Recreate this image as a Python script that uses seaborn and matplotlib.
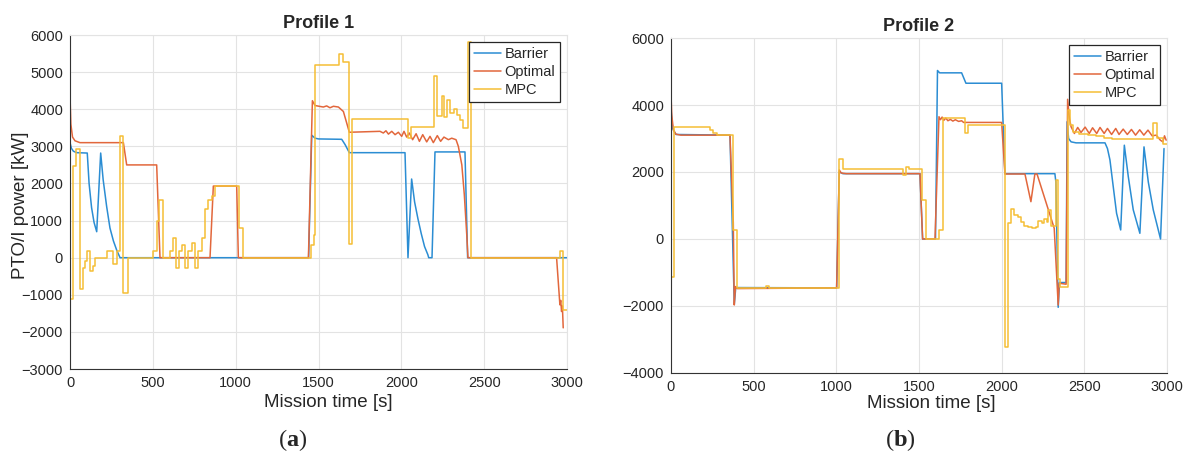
import seaborn as sns
import matplotlib.pyplot as plt

# Perfil 1 - Barrier
p1_bar_t = [0, 0, 8, 20, 40, 104, 115, 130, 145, 161, 185, 200, 221, 241, 262, 282, 302,
            1440, 1459, 1479, 1500, 1640, 1660, 1686, 2022, 2040, 2062, 2080, 2100, 2120,
            2140, 2160, 2165, 2185, 2203, 2384, 2400, 3000]
p1_bar_v = [-2600, 3100, 2950, 2870, 2830, 2820, 2000, 1350, 950, 700, 2820, 2100, 1380, 800,
            450, 200, 0,
            0, 3300, 3220, 3200, 3190, 3050, 2830, 2830, 0, 2120, 1500, 1050, 650,
            300, 80, 0, 0, 2850, 2850, 0, 0]

# Perfil 1 - Optimal
p1_opt_t = [0, 0, 5, 15, 30, 60, 322, 342, 523, 543, 845, 865, 1006, 1016, 1439,
            1463, 1479, 1529, 1549, 1569, 1590, 1620, 1650, 1670, 1686, 1871, 1891, 1907,
            1922, 1942, 1962, 1982, 2002, 2016, 2032, 2048, 2068, 2089, 2109, 2129, 2153,
            2173, 2193, 2217, 2237, 2257, 2284, 2304, 2330, 2344, 2365, 2380, 2395, 2402,
            2937, 2957, 2962, 2967, 2972, 2977]
p1_opt_v = [-1580, 4350, 3600, 3250, 3150, 3100, 3100, 2500, 2500, 0, 0, 1930, 1930, 0, 0,
            4230, 4100, 4060, 4090, 4040, 4080, 4060, 3940, 3630, 3380, 3405, 3360, 3420,
            3330, 3405, 3315, 3380, 3270, 3405, 3250, 3360, 3180, 3340, 3135, 3315, 3120,
            3270, 3100, 3290, 3135, 3250, 3180, 3220, 3180, 3000, 2500, 1700, 600, 0,
            0, -1270, -1150, -1450, -1300, -1890]

# Perfil 1 - MPC (escalons)
p1_mpc_t = [0, 18, 38, 62, 80, 92, 100, 121, 137, 152, 222, 262, 282, 300, 322, 350,
            503, 523, 537, 559, 604, 620, 640, 660, 674, 694, 714, 734, 755, 775, 795, 815,
            835, 855, 875, 1022, 1046, 1455, 1470, 1480, 1626, 1650, 1684, 1704, 2042, 2060,
            2197, 2213, 2243, 2257, 2273, 2294, 2318, 2334, 2354, 2370, 2404, 2418, 2957,
            2975, 3000]
p1_mpc_v = [-1100, 2480, 2930, -850, -270, -100, 180, -370, -220, 0, 180, -180, 180, 3270,
            -950, 0,
            170, 980, 1560, 0, 170, 530, -280, 170, 350, -270, 170, 400, -270, 170, 530, 1300,
            1560, 1650, 1920, 800, 0, 350, 600, 5200, 5500, 5270, 370, 3730, 3230, 3520,
            4900, 3810, 4350, 3800, 4260, 3900, 4000, 3850, 3720, 3500, 5800, 0, 170,
            -1420, -1420]

# Perfil 2 - Barrier
p2_bar_t = [0, 0, 10, 30, 357, 383, 392, 1002, 1018, 1040, 1506, 1522, 1600, 1612, 1625,
            1758, 1784, 2000, 2020, 2322, 2328, 2342, 2350, 2390, 2396, 2405, 2420, 2450,
            2625, 2640, 2655, 2675, 2695, 2720, 2742, 2766, 2796, 2836, 2861, 2887, 2917,
            2961, 2982]
p2_bar_v = [-1500, 3900, 3300, 3120, 3100, -1950, -1450, -1460, 2000, 1950, 1950, 0, 0, 5030,
            4960, 4960, 4650, 4650, 1950, 1950, 1700, -2040, -1300, -1300, 3500, 3000, 2900,
            2870, 2870, 2700, 2360, 1560, 770, 270, 2800, 1860, 870, 170, 2750, 1700, 870,
            0, 2700]

# Perfil 2 - Optimal
p2_opt_t = [0, 0, 5, 15, 30, 60, 357, 377, 383, 390, 400, 1002, 1018, 1030, 1060, 1506, 1522,
            1597, 1621, 1630, 1640, 1650, 1662, 1675, 1690, 1705, 1720, 1740, 1758, 1770,
            2000, 2020, 2141, 2177, 2201, 2214, 2318, 2342, 2348, 2390, 2399, 2410, 2420,
            2440, 2460, 2480, 2505, 2530, 2550, 2575, 2595, 2620, 2640, 2665, 2690, 2710,
            2735, 2760, 2785, 2810, 2835, 2860, 2885, 2910, 2935, 2960, 2975, 2985, 2995]
p2_opt_v = [-1570, 4350, 3700, 3250, 3130, 3100, 3100, 500, -1970, -1420, -1480, -1460, 2060,
            1970, 1950, 1950, 0,
            0, 3650, 3560, 3640, 3540, 3610, 3530, 3570, 3520, 3560, 3510, 3530, 3480,
            3480, 1940, 1940, 1114, 1940, 1940, 320, -1970, -1320, -1350, 4170, 3600, 3350,
            3150, 3330, 3180, 3340, 3150, 3320, 3150, 3330, 3150, 3300, 3120, 3300, 3120,
            3280, 3120, 3270, 3100, 3260, 3100, 3250, 3080, 3100, 2950, 2900, 3080, 2950]

# Perfil 2 - MPC (escalons)
p2_mpc_t = [0, 18, 236, 256, 276, 373, 401, 575, 590, 1018, 1040, 1401, 1421, 1440, 1516,
            1542, 1623, 1643, 1778, 1798, 2020, 2036, 2056, 2077, 2097, 2117, 2137, 2157,
            2181, 2206, 2222, 2242, 2258, 2272, 2282, 2298, 2326, 2343, 2355, 2403, 2415,
            2430, 2470, 2520, 2570, 2620, 2670, 2917, 2937, 2975, 3000]
p2_mpc_v = [-1120, 3330, 3250, 3150, 3100, 270, -1460, -1390, -1450, 2400, 2100, 1910, 2160,
            2080, 1160,
            0, 270, 3600, 3150, 3400, -3210, 490, 890, 720, 660, 520, 390, 350,
            320, 350, 550, 480, 590, 520, 870, 400, 1760, -1200, -1420, 3850, 3400,
            3200, 3130, 3100, 3060, 3020, 2980, 3450, 3000, 2850, 2850]

noms = ["Barrier", "Optimal", "MPC"]
colors = ["#2B8DD3", "#E2673C", "#F5BE35"]

sns.set_theme(style="whitegrid")
plt.rcParams["font.family"] = ["Liberation Sans", "DejaVu Sans"]
plt.rcParams["mathtext.fontset"] = "custom"
plt.rcParams["mathtext.rm"] = "Liberation Serif"
plt.rcParams["mathtext.bf"] = "Liberation Serif:bold"

fig = plt.figure(figsize=(11.85, 4.59), dpi=100)
ax1 = fig.add_axes([0.0591, 0.196, 0.4194, 0.7277])
ax2 = fig.add_axes([0.5662, 0.1874, 0.4186, 0.7298])

dades = [
    (ax1, [(p1_bar_t, p1_bar_v), (p1_opt_t, p1_opt_v), (p1_mpc_t, p1_mpc_v)]),
    (ax2, [(p2_bar_t, p2_bar_v), (p2_opt_t, p2_opt_v), (p2_mpc_t, p2_mpc_v)]),
]

for ax, series in dades:
    for i, (t, v) in enumerate(series):
        extra = {"drawstyle": "steps-post"} if noms[i] == "MPC" else {}
        sns.lineplot(x=t, y=v, ax=ax, color=colors[i], lw=1.1, label=noms[i],
                     estimator=None, sort=False, **extra)
    ax.set_xlim(0, 3000)
    ax.set_xticks([0, 500, 1000, 1500, 2000, 2500, 3000])
    ax.grid(True, color="#E3E3E3", lw=0.8)
    ax.tick_params(direction="in", length=4, width=0.8, colors="#262626",
                   labelsize=10.5, pad=5)
    for s in ["left", "bottom"]:
        ax.spines[s].set_color("#333333")
        ax.spines[s].set_linewidth(0.8)
    for s in ["top", "right"]:
        ax.spines[s].set_color("#E3E3E3")
        ax.spines[s].set_linewidth(0.8)
    ax.set_xlabel("Mission time [s]", fontsize=13.5, color="#262626")
    leg = ax.legend(loc="upper right", fontsize=10.5, handlelength=1.9,
                    handletextpad=0.22, borderpad=0.3, labelspacing=0.3,
                    borderaxespad=0.5, fancybox=False, framealpha=1)
    leg.get_frame().set_edgecolor("#262626")
    leg.get_frame().set_linewidth(0.9)

ax1.set_ylim(-3000, 6000)
ax1.set_yticks(range(-3000, 6001, 1000))
ax2.set_ylim(-4000, 6000)
ax2.set_yticks(range(-4000, 6001, 2000))

ax1.set_ylabel("PTO/I power [kW]", fontsize=13.5, color="#262626")
ax1.yaxis.set_label_coords(-0.082, 0.49)
ax1.xaxis.set_label_coords(0.52, -0.075)
ax2.xaxis.set_label_coords(0.525, -0.066)

ax1.set_title("Profile 1", fontsize=13, fontweight="bold", pad=5)
ax2.set_title("Profile 2", fontsize=13, fontweight="bold", pad=5)

fig.text(293 / 1185, 1 - 440 / 459, r"($\mathbf{a}$)", fontsize=17.5,
         family="Liberation Serif", ha="center", va="center")
fig.text(900 / 1185, 1 - 440 / 459, r"($\mathbf{b}$)", fontsize=17.5,
         family="Liberation Serif", ha="center", va="center")

fig.savefig("out.png", dpi=100, facecolor="white")
